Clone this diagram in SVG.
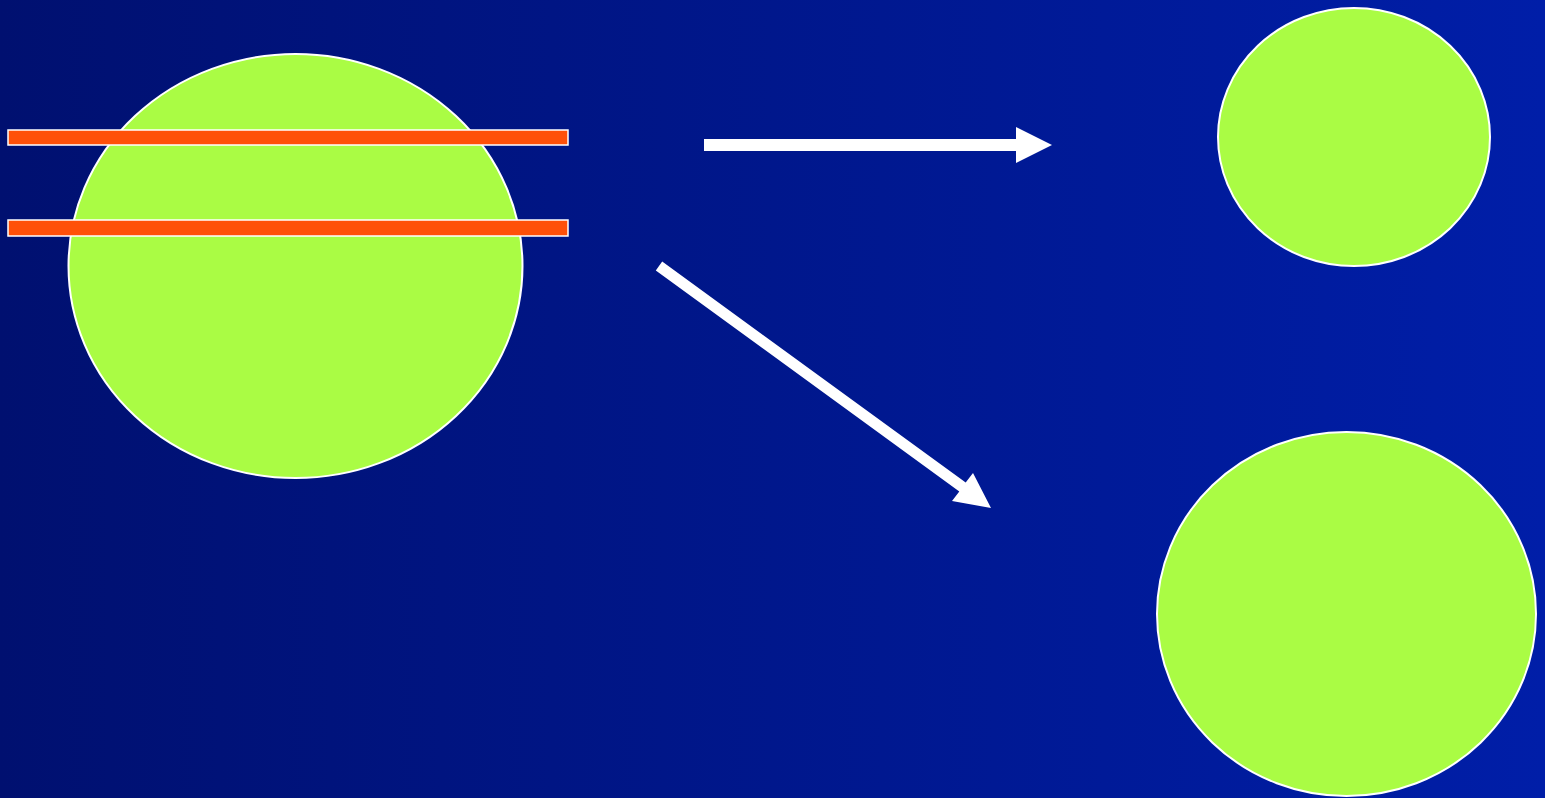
<svg xmlns="http://www.w3.org/2000/svg" width="1545" height="798" viewBox="0 0 1545 798">
<defs>
<linearGradient id="bg" x1="0" y1="0" x2="1" y2="0">
<stop offset="0" stop-color="#001070"/>
<stop offset="1" stop-color="#001EA8"/>
</linearGradient>
<style>
.blob{fill:#AAFC44;stroke:#FFFFFF;stroke-width:2}
.bar{fill:#FF5008;stroke:#FFFFFF;stroke-width:1.5}
.arrow{fill:#FFFFFF;stroke:none}
</style>
</defs>
<rect x="0" y="0" width="1545" height="798" fill="url(#bg)"/>
<g id="source">
<ellipse class="blob" cx="295.5" cy="266" rx="227" ry="212"/>
<rect class="bar" x="8" y="130" width="560" height="15"/>
<rect class="bar" x="8" y="220" width="560" height="16"/>
</g>
<g id="small">
<ellipse class="blob" cx="1354" cy="137" rx="136" ry="129"/>
</g>
<g id="large">
<ellipse class="blob" cx="1346.5" cy="614" rx="189.5" ry="182"/>
</g>
<g id="connectors">
<polygon class="arrow" points="704,139 1016,139 1016,127 1052,145 1016,163 1016,151 704,151"/>
<polygon class="arrow" points="662.2,261.6 965.7,482.6 973,473 991,508 952,501 959.3,491.4 655.8,270.4"/>
</g>
</svg>
